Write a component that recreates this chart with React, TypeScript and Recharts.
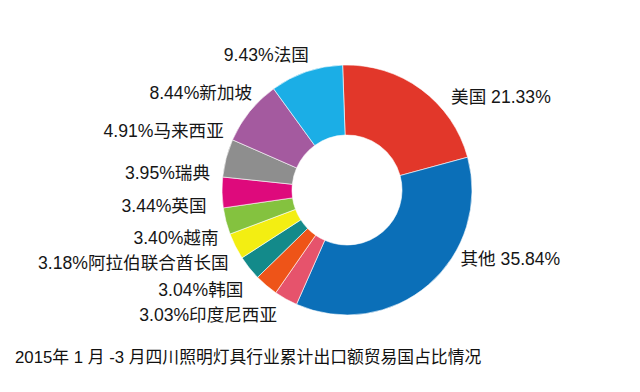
import React from 'react';
import { PieChart, Pie, Cell } from 'recharts';

const countries = ['美国', '其他', '印度尼西亚', '韩国', '阿拉伯联合酋长国', '越南', '英国', '瑞典', '马来西亚', '新加坡', '法国'];
const shares = [21.33, 35.84, 3.03, 3.04, 3.18, 3.40, 3.44, 3.95, 4.91, 8.44, 9.43];
const colors = ['#E2372A', '#0B6FB8', '#E6536C', '#EE5418', '#138A8A', '#F3EE12', '#84C23F', '#DE0A7C', '#8E8E8E', '#A45A9F', '#1BAEE6'];
const title = '2015年 1 月 -3 月四川照明灯具行业累计出口额贸易国占比情况';

// label layout nudges (dx, dy) relative to radial anchor
const labelNudge: [number, number][] = [
  [18, 24], [19, -41], [1, -1], [-10, -11], [-5, -17], [1, -17], [0, -20], [8, -20], [17, -22], [18, -6], [9, 2],
];

const data = countries.map((name, i) => ({ name, value: shares[i], color: colors[i] }));
const RAD = Math.PI / 180;
const FONT = '"Liberation Sans", Arial, "Noto Sans CJK SC", sans-serif';

const renderLabel = (props: any) => {
  const { cx, cy, midAngle, outerRadius, index } = props;
  const r = outerRadius + 20;
  const cos = Math.cos(-midAngle * RAD);
  const sin = Math.sin(-midAngle * RAD);
  const [dx, dy] = labelNudge[index];
  const x = cx + r * cos + dx;
  const y = cy + r * sin + dy;
  const left = cos < 0;
  const d = data[index];
  const text = left ? `${d.value.toFixed(2)}%${d.name}` : `${d.name} ${d.value.toFixed(2)}%`;
  return (
    <text key={`l-${index}`} x={x} y={y} textAnchor={left ? 'end' : 'start'} dominantBaseline="central"
      fontSize={17.6} fill="#161616" fontFamily={FONT}>
      {text}
    </text>
  );
};

export default function App() {
  return (
    <div style={{ position: 'relative', width: 632, height: 384, background: '#fff' }}>
      <PieChart width={632} height={384}>
        <Pie
          data={data}
          dataKey="value"
          nameKey="name"
          cx={334}
          cy={177}
          innerRadius={55}
          outerRadius={125}
          startAngle={92}
          endAngle={-268}
          stroke="#ffffff"
          strokeWidth={0.6}
          labelLine={false}
          label={renderLabel}
          isAnimationActive={false}
        >
          {data.map((d, i) => (
            <Cell key={i} fill={d.color} />
          ))}
        </Pie>
      </PieChart>
      <div style={{ position: 'absolute', left: 7, top: 340, fontSize: 16.8, lineHeight: '20px', color: '#111', fontFamily: FONT, whiteSpace: 'nowrap' }}>
        {title}
      </div>
    </div>
  );
}
